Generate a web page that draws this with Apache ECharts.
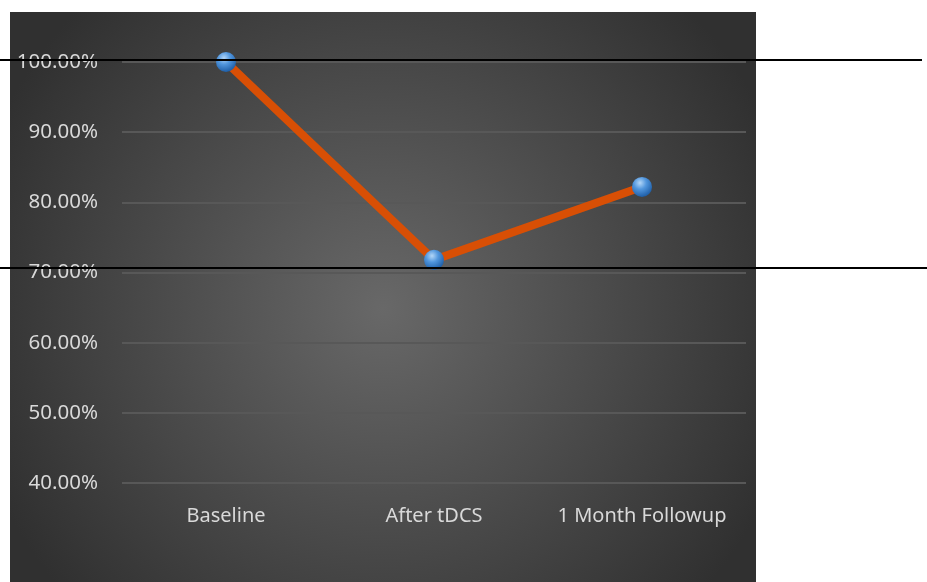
<!DOCTYPE html>
<html>
<head>
<meta charset="utf-8">
<script src="https://cdn.jsdelivr.net/npm/echarts@6/dist/echarts.min.js"></script>
<style>
  html, body { margin: 0; padding: 0; background: #fff; }
  #chart { width: 927px; height: 582px; }
</style>
</head>
<body>
<div id="chart"></div>
<script>
// data
const categories = ['Baseline', 'After tDCS', '1 Month Followup'];
const scores = [100, 71.8, 82.2];
const yTicks = [40, 50, 60, 70, 80, 90, 100];

const chart = echarts.init(document.getElementById('chart'));

const sphere = new echarts.graphic.RadialGradient(0.4, 0.3, 0.7, [
  { offset: 0, color: '#b3d6f7' },
  { offset: 0.45, color: '#5196dd' },
  { offset: 1, color: '#1f5fa8' }
]);

const option = {
  backgroundColor: '#ffffff',
  animation: false,
  graphic: [
    {
      type: 'rect',
      z: -10,
      shape: { x: 10, y: 12, width: 746, height: 570 },
      style: {
        fill: new echarts.graphic.RadialGradient(0.5, 0.52, 0.75, [
          { offset: 0, color: '#686868' },
          { offset: 1, color: '#303030' }
        ])
      },
      silent: true
    },
    // stray annotation lines laid over the picture
    {
      type: 'line',
      z: 100,
      shape: { x1: 0, y1: 60, x2: 922, y2: 60 },
      style: { stroke: '#000', lineWidth: 2 }
    },
    {
      type: 'line',
      z: 100,
      shape: { x1: 0, y1: 268, x2: 927, y2: 268 },
      style: { stroke: '#000', lineWidth: 2 }
    }
  ],
  grid: {
    left: 122,
    right: 181,
    top: 62,
    bottom: 99,
    containLabel: false
  },
  xAxis: {
    type: 'category',
    data: categories,
    boundaryGap: true,
    axisLine: { show: false },
    axisTick: { show: false },
    axisLabel: {
      interval: 0,
      color: '#d9d9d9',
      fontFamily: 'Noto Sans',
      fontSize: 20,
      margin: 23
    }
  },
  yAxis: {
    type: 'value',
    min: 40,
    max: 100,
    interval: 10,
    axisLine: { show: false },
    axisTick: { show: false },
    splitLine: { lineStyle: { color: '#585858', width: 2 } },
    axisLabel: {
      color: '#d9d9d9',
      fontFamily: 'Noto Sans',
      fontSize: 20.5,
      margin: 24,
      padding: [5, 0, 0, 0],
      formatter: v => (yTicks.includes(v) ? v.toFixed(2) + '%' : '')
    }
  },
  series: [
    {
      type: 'line',
      data: scores,
      symbol: 'circle',
      symbolSize: 20,
      lineStyle: { color: '#d84f05', width: 8 },
      itemStyle: { color: sphere, borderWidth: 0 },
      z: 5
    }
  ]
};

chart.setOption(option);
</script>
</body>
</html>
